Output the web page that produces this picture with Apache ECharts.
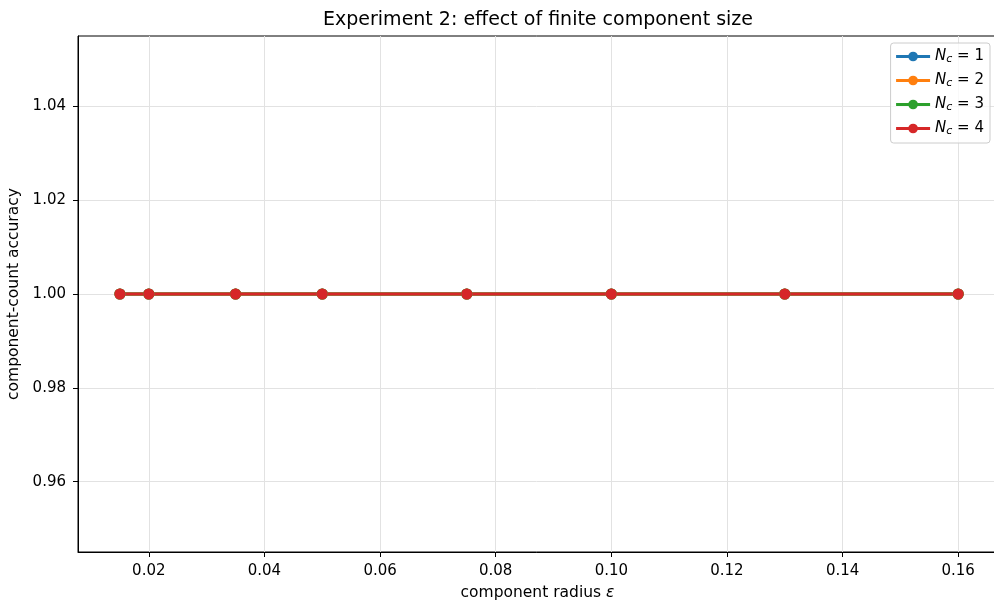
<!DOCTYPE html>
<html>
<head>
<meta charset="utf-8">
<script src="https://cdn.jsdelivr.net/npm/echarts@6/dist/echarts.min.js"></script>
<style>html,body{margin:0;padding:0;background:#fff}#c{width:994px;height:602px}</style>
</head>
<body>
<div id="c"></div>
<script>
const radii = [0.015, 0.02, 0.035, 0.05, 0.075, 0.1, 0.13, 0.16];
const accNc1 = [1, 1, 1, 1, 1, 1, 1, 1];
const accNc2 = [1, 1, 1, 1, 1, 1, 1, 1];
const accNc3 = [1, 1, 1, 1, 1, 1, 1, 1];
const accNc4 = [1, 1, 1, 1, 1, 1, 1, 1];
const seriesNames = ['1', '2', '3', '4'];
const seriesColors = ['#1f77b4', '#ff7f0e', '#2ca02c', '#d62728'];
const xTicks = [0.02, 0.04, 0.06, 0.08, 0.10, 0.12, 0.14, 0.16];
const yTicks = [0.96, 0.98, 1.00, 1.02, 1.04];

const allAcc = [accNc1, accNc2, accNc3, accNc4];
const font = 'DejaVu Sans';
const chart = echarts.init(document.getElementById('c'), null, {renderer: 'canvas'});
const series = allAcc.map((acc, i) => ({
  name: seriesNames[i],
  type: 'line',
  data: radii.map((r, j) => [r, acc[j]]),
  color: seriesColors[i],
  symbol: 'circle',
  symbolSize: 11,
  lineStyle: {width: 2.8},
  itemStyle: {color: seriesColors[i]},
  showSymbol: true
}));

chart.setOption({
  animation: false,
  backgroundColor: '#fff',
  title: {
    text: 'Experiment 2: effect of finite component size',
    left: 533, top: 6, textAlign: 'center',
    textStyle: {fontFamily: font, fontSize: 19, fontWeight: 'normal', color: '#000'}
  },
  grid: {
    left: 78, top: 36, right: -3, bottom: 50,
    outerBoundsMode: 'none', containLabel: false,
    show: true, borderColor: '#000', borderWidth: 1, backgroundColor: 'transparent'
  },
  legend: {
    orient: 'vertical', right: 4, top: 43,
    itemWidth: 34, itemHeight: 12, itemGap: 8,
    padding: [6, 6, 6, 4],
    borderColor: '#cccccc', borderWidth: 1, borderRadius: 3,
    backgroundColor: 'rgba(255,255,255,0.8)',
    formatter: n => '{i|N}{s|c}{t| = ' + n + '}',
    textStyle: {
      fontFamily: font, fontSize: 15, color: '#000',
      rich: {
        i: {fontFamily: font, fontSize: 15, fontStyle: 'italic', color: '#000'},
        s: {fontFamily: font, fontSize: 11, fontStyle: 'italic', color: '#000', padding: [6, 0, 0, 0]},
        t: {fontFamily: font, fontSize: 15, color: '#000'}
      }
    },
    data: seriesNames.map(n => ({name: n, lineStyle: {width: 3}}))
  },
  xAxis: {
    type: 'value', min: 0.00775, max: 0.16671,
    name: 'component radius {e|ε}', nameLocation: 'middle', nameGap: 33,
    nameTextStyle: {fontFamily: font, fontSize: 15.5, color: '#000',
      rich: {e: {fontFamily: font, fontSize: 15.5, fontStyle: 'italic', color: '#000'}}},
    axisLine: {show: true, lineStyle: {color: '#000', width: 1}},
    axisTick: {show: true, inside: false, length: 5, lineStyle: {color: '#000', width: 1}, customValues: xTicks},
    axisLabel: {fontFamily: font, fontSize: 15, color: '#000', margin: 12,
      customValues: xTicks, formatter: v => v.toFixed(2)},
    splitLine: {show: true, lineStyle: {color: '#e2e2e2', width: 1}}
  },
  yAxis: {
    type: 'value', min: 0.945, max: 1.055,
    name: 'component-count accuracy', nameLocation: 'middle', nameGap: 52,
    nameTextStyle: {fontFamily: font, fontSize: 15.5, color: '#000'},
    axisLine: {show: true, lineStyle: {color: '#000', width: 1}},
    axisTick: {show: true, inside: false, length: 5, lineStyle: {color: '#000', width: 1}, customValues: yTicks},
    axisLabel: {fontFamily: font, fontSize: 15, color: '#000', margin: 12,
      customValues: yTicks, formatter: v => v.toFixed(2)},
    splitLine: {show: true, lineStyle: {color: '#e2e2e2', width: 1}}
  },
  series: series
});
</script>
</body>
</html>
